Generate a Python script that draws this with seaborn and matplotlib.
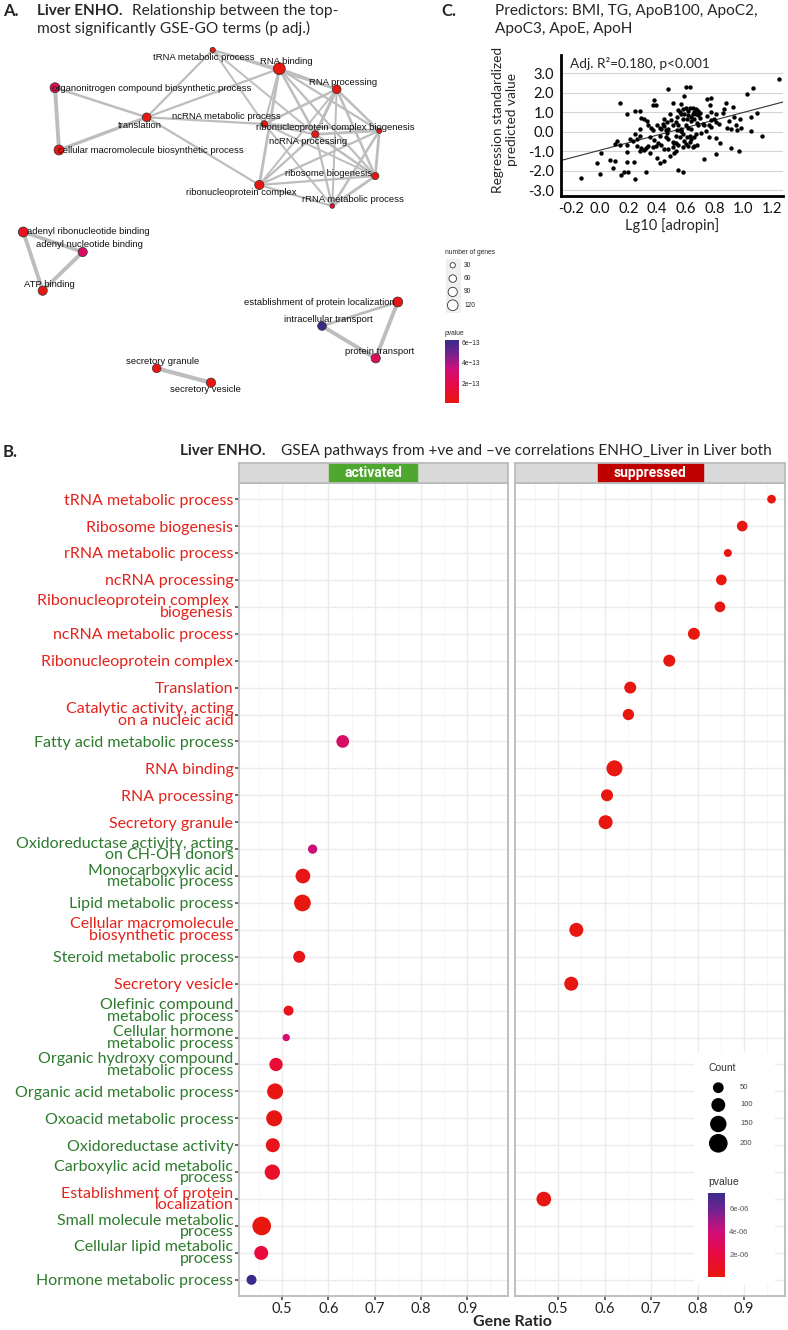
import numpy as np
import pandas as pd
import seaborn as sns
import matplotlib.pyplot as plt
from matplotlib.colors import LinearSegmentedColormap, Normalize
from matplotlib.collections import LineCollection
from matplotlib.cm import ScalarMappable
from matplotlib.patches import Rectangle

W, H = 788, 1330

# ---------------- A: GO term network ----------------
node_names = ["tRNA metabolic process", "RNA binding", "RNA processing",
              "organonitrogen compound biosynthetic process", "translation",
              "ncRNA metabolic process", "ribonucleoprotein complex biogenesis",
              "ncRNA processing", "cellular macromolecule biosynthetic process",
              "ribosome biogenesis", "ribonucleoprotein complex", "rRNA metabolic process",
              "adenyl ribonucleotide binding", "adenyl nucleotide binding", "ATP binding",
              "establishment of protein localization", "intracellular transport",
              "protein transport", "secretory granule", "secretory vesicle"]
# layout coordinates of the nodes
node_x = [212.7, 279.3, 336.7, 55.0, 146.7, 264.3, 379.3, 315.3, 59.0, 375.3,
          259.3, 332.3, 23.3, 82.7, 42.7, 397.7, 322.0, 375.7, 156.7, 211.0]
node_y = [50.0, 68.7, 89.3, 87.7, 117.3, 124.0, 130.7, 134.3, 150.0, 176.0,
          185.0, 206.0, 232.0, 252.0, 290.7, 302.0, 326.0, 358.3, 368.3, 382.7]
label_x = [204, 286.7, 342.7, 152, 140, 226.7, 335, 308.3, 150.5, 328.3,
           241.7, 352.7, 88.7, 89.3, 49.3, 319.3, 328.3, 379.3, 162.3, 205.3]
label_y = [57.7, 61.7, 82.7, 88.3, 125, 116.7, 127.7, 141.3, 150.7, 174,
           192.7, 200, 232, 244.7, 284.7, 302.7, 319.3, 351.7, 361.7, 390]
node_genes = [30, 150, 80, 105, 80, 47, 30, 55, 105, 55,
              90, 23, 105, 90, 90, 105, 80, 90, 80, 90]
node_p = [1e-15, 2e-15, 1e-15, 2.2e-13, 1e-15, 2e-15, 1e-15, 1e-15, 2e-14, 1e-15,
          1e-15, 1.5e-13, 0.6e-13, 2.7e-13, 1e-14, 0.3e-13, 6.23e-13, 2.4e-13, 1e-14, 1e-14]
edges = [(4, 0), (4, 1), (4, 5), (4, 10), (4, 3), (4, 8), (3, 8),
         (0, 1), (0, 5), (0, 7), (0, 2),
         (1, 2), (1, 10), (1, 6), (1, 7), (1, 9), (1, 5),
         (2, 5), (2, 7), (2, 6), (2, 9), (2, 11), (2, 10),
         (5, 7), (5, 6), (5, 9), (5, 11),
         (7, 6), (7, 9), (7, 11), (7, 10),
         (6, 9), (6, 11), (6, 10), (9, 11), (9, 10), (10, 11),
         (12, 13), (12, 14), (13, 14),
         (15, 16), (15, 17), (16, 17), (18, 19)]
edge_w = [1.6, 1.6, 1.6, 1.6, 1.8, 2.4, 2.8,
          1.4, 1.4, 1.4, 1.4,
          2.0, 2.0, 1.6, 1.8, 1.6, 1.4,
          1.8, 2.2, 1.8, 1.8, 1.4, 1.4,
          1.6, 1.6, 1.4, 1.4,
          2.0, 1.8, 1.6, 1.6,
          2.0, 1.8, 1.6, 2.0, 1.6, 1.6,
          2.6, 2.8, 2.8,
          2.0, 2.8, 2.8, 3.0]
gene_legend = [30, 60, 90, 120]

# ---------------- C: regression scatter ----------------
lg10_adropin = [1.25, 1.07, 1.03, 0.48, 0.60, 0.63, 0.59, 0.38, 0.14, 0.37, 0.39, 0.51, 0.57,
                0.75, 0.78, 0.77, 0.88, 0.93, 0.25, 0.28, 0.19, 0.49, 0.55, 0.58, 0.60, 0.63,
                0.65, 0.67, 0.69, 0.57, 0.59, 0.62, 0.65, 0.67, 0.69, 0.54, 0.58, 0.61, 0.64,
                0.66, 0.70, 0.78, 0.81, 0.75, 0.80, 0.78, 0.87, 0.94, 0.98, 1.10, 1.06, 0.29,
                0.31, 0.45, 0.47, 0.45, 0.48, 0.51, 0.34, 0.36, 0.37, 0.40, 0.42, 0.43, 0.46,
                0.53, 0.55, 0.57, 0.60, 0.62, 0.64, 0.54, 0.57, 0.72, 0.73, 0.76, 0.78, 0.69,
                0.81, 0.83, 0.89, 0.92, 0.95, 0.96, 1.06, 1.13, 0.28, 0.25, 0.28, 0.26, 0.35,
                0.38, 0.42, 0.46, 0.48, 0.51, 0.53, 0.56, 0.58, 0.61, 0.63, 0.64, 0.66, 0.67,
                0.76, 0.81, 0.84, 0.92, 0.97, 0.12, 0.11, 0.14, 0.19, 0.23, 0.26, 0.29, 0.32,
                0.34, 0.37, 0.39, 0.28, 0.31, 0.35, 0.41, 0.43, 0.45, 0.48, 0.51, 0.53, 0.55,
                0.58, 0.60, 0.62, 0.65, 0.66, 0.68, 0.53, 0.52, 0.01, 0.19, 0.40, 0.42, 0.45,
                0.49, 0.73, 0.81, -0.02, 0.07, 0.11, 0.19, 0.24, 0.09, 0.17, 0.15, 0.20, 0.32,
                0.00, -0.13, 0.25, 0.55, 0.58,
                0.62, 0.66, 0.70, 0.56, 0.64, 0.68, 0.44, 0.50, 0.71, 0.59, 0.47, 0.52, 0.74,
                0.86, 0.90, 0.33, 0.21, 0.99, 0.63, 0.57]
predicted_z = [2.74, 2.26, 1.95, 2.22, 2.29, 2.29, 1.83, 1.66, 1.48, 1.36, 1.36, 1.50, 1.45,
               1.71, 1.74, 1.40, 1.50, 1.28, 1.07, 1.07, 0.93, 0.93, 1.10, 1.19, 1.22, 1.22,
               1.22, 1.16, 1.07, 0.93, 0.93, 0.84, 0.93, 0.93, 0.84, 0.76, 0.67, 0.67, 0.76,
               0.67, 0.71, 1.02, 0.93, 0.81, 0.67, 0.62, 1.16, 0.76, 0.67, 0.98, 0.76, 0.72,
               0.64, 0.64, 0.50, 0.28, 0.16, 0.36, 0.33, 0.19, 0.07, 0.33, 0.19, 0.12, 0.07,
               0.50, 0.33, 0.16, 0.33, 0.21, 0.16, 0.07, 0.02, 0.41, 0.36, 0.33, 0.24, 0.33,
               0.53, 0.41, 0.21, 0.12, 0.36, 0.07, 0.02, -0.19, 0.16, -0.10, -0.19, -0.36, -0.28,
               -0.40, -0.19, -0.28, -0.36, -0.50, -0.19, -0.28, -0.10, -0.28, -0.19, -0.36, -0.28, -0.10,
               -0.28, -0.33, -0.57, -0.81, -1.00, -0.47, -0.62, -0.66, -0.66, -0.45, -0.71, -0.81, -0.81,
               -0.71, -0.79, -0.71, -0.98, -0.91, -1.09, -0.57, -0.67, -0.88, -0.88, -0.79, -0.59, -0.67,
               -0.79, -0.62, -0.71, -0.79, -0.71, -0.66, -1.00, -1.09, -1.09, -1.05, -1.36, -1.60, -1.48,
               -1.26, -1.40, -1.14, -1.60, -1.45, -1.52, -1.57, -1.55, -1.88, -2.05, -2.21, -2.05, -2.05,
               -2.19, -2.36, -2.45, -1.95, -2.09,
               1.05, 1.02, 0.95, 1.02, 0.55, 0.45, 0.40, 0.60, -0.05, -0.45, -0.05, -0.60, 0.05,
               0.95, 0.55, 0.55, -0.35, 0.20, -0.50, 0.05]
fit_intercept, fit_slope = -0.95, 1.94
x_ticks_c = [-0.2, 0.0, 0.2, 0.4, 0.6, 0.8, 1.0, 1.2]
y_ticks_c = [-3.0, -2.0, -1.0, 0.0, 1.0, 2.0, 3.0]

# ---------------- B: GSEA dot plot ----------------
terms = ["tRNA metabolic process", "Ribosome biogenesis", "rRNA metabolic process",
         "ncRNA processing", "Ribonucleoprotein complex \nbiogenesis", "ncRNA metabolic process",
         "Ribonucleoprotein complex", "Translation", "Catalytic activity, acting\non a nucleic acid",
         "Fatty acid metabolic process", "RNA binding", "RNA processing", "Secretory granule",
         "Oxidoreductase activity, acting\non CH-OH donors", "Monocarboxylic acid\nmetabolic process",
         "Lipid metabolic process", "Cellular macromolecule\nbiosynthetic process",
         "Steroid metabolic process", "Secretory vesicle", "Olefinic compound\nmetabolic process",
         "Cellular hormone\nmetabolic process", "Organic hydroxy compound\nmetabolic process",
         "Organic acid metabolic process", "Oxoacid metabolic process", "Oxidoreductase activity",
         "Carboxylic acid metabolic\nprocess", "Establishment of protein\nlocalization",
         "Small molecule metabolic\nprocess", "Cellular lipid metabolic\nprocess",
         "Hormone metabolic process"]
direction = (["suppressed"] * 9 + ["activated"] + ["suppressed"] * 3 + ["activated"] * 3
             + ["suppressed"] + ["activated"] + ["suppressed"] + ["activated"] * 7
             + ["suppressed"] + ["activated"] * 3)
gene_ratio = [0.959, 0.896, 0.865, 0.851, 0.848, 0.792, 0.739, 0.655, 0.651, 0.631,
              0.621, 0.605, 0.602, 0.566, 0.545, 0.544, 0.539, 0.537, 0.528, 0.514,
              0.509, 0.487, 0.485, 0.483, 0.480, 0.479, 0.469, 0.456, 0.455, 0.434]
count = [24, 49, 16, 49, 49, 68, 68, 68, 58, 80, 141, 68, 102, 31, 115, 156, 102, 68, 102, 40,
         10, 90, 141, 141, 102, 127, 115, 202, 102, 40]
pvalue = [2e-8, 5e-8, 1e-7, 8e-8, 1e-7, 5e-8, 8e-8, 3e-8, 1e-7, 3.3e-6,
          1e-9, 5e-8, 1e-7, 4.1e-6, 3.7e-7, 1e-8, 2e-7, 4e-7, 1e-7, 5e-7,
          3.7e-6, 1.6e-6, 2e-7, 2e-7, 5e-7, 1.1e-6, 1e-7, 1e-9, 1.85e-6, 7.4e-6]
count_legend = [50, 100, 150, 200]

RED, GREEN = "#E3231B", "#2E7A2E"
pv_cmap = LinearSegmentedColormap.from_list(
    "pv", [(0, "#E8170F"), (0.27, "#E80A40"), (0.54, "#CF0E7A"), (0.8, "#6E2490"), (1, "#3B2A8A")])

sns.set_theme(style="white")
plt.rcParams['font.family'] = ['Lato', 'DejaVu Sans']

fig = plt.figure(figsize=(W / 100, H / 100), dpi=100)


def px_axes(l, t, r, b):
    return fig.add_axes([l / W, 1 - b / H, (r - l) / W, (b - t) / H])


def px_text(x, y, s, **kw):
    kw.setdefault('va', 'center')
    return fig.text(x / W, 1 - y / H, s, **kw)


# ---- titles ----
px_text(3, 11, "A.", fontsize=12, weight='bold')
px_text(37, 11, "Liver ENHO.", fontsize=11, weight='bold')
px_text(132, 11, "Relationship between the top-", fontsize=11.2)
px_text(37, 28.5, "most significantly GSE-GO terms (p adj.)", fontsize=11.2)
px_text(441, 11, "C.", fontsize=12, weight='bold')
px_text(495, 11, "Predictors: BMI, TG, ApoB100, ApoC2,", fontsize=11.1)
px_text(495, 28.5, "ApoC3, ApoE, ApoH", fontsize=11.1)
px_text(3, 452, "B.", fontsize=12, weight='bold')
px_text(180, 451, "Liver ENHO.", fontsize=11, weight='bold')
px_text(281, 451, "GSEA pathways from +ve and \u2013ve correlations ENHO_Liver in Liver both",
        fontsize=11.1)

# ---- A network ----
ax_a = px_axes(0, 40, 430, 410)
ax_a.set_xlim(0, 430)
ax_a.set_ylim(410, 40)
ax_a.axis('off')
segs = [[(node_x[i], node_y[i]), (node_x[j], node_y[j])] for i, j in edges]
ax_a.add_collection(LineCollection(segs, colors="#BDBDBD", linewidths=edge_w, zorder=1))
net = pd.DataFrame({"x": node_x, "y": node_y, "genes": node_genes, "p": node_p})
norm_a = Normalize(min(node_p), max(node_p))
sns.scatterplot(data=net, x="x", y="y", hue="p", size="genes", palette=pv_cmap,
                hue_norm=norm_a, sizes=(0, 0.49 * 150), size_norm=(0, 150),
                edgecolor="#333333", linewidth=0.5, legend=False, ax=ax_a, zorder=2)
ax_a.set_xlabel("")
ax_a.set_ylabel("")
for name, lx, ly in zip(node_names, label_x, label_y):
    ax_a.text(lx, ly, name, fontsize=6.8, family="Liberation Sans", ha="center",
              va="center", zorder=4, color="#111111")

# size legend
px_text(445, 252.7, "number of genes", fontsize=4.8, family="Liberation Sans")
ax_gl = px_axes(445.7, 259, 461, 312.7)
ax_gl.set_facecolor("#EFEFEF")
ax_gl.set_xlim(0, 1)
ax_gl.set_ylim(3.56, -0.47)
ax_gl.set_xticks([])
ax_gl.set_yticks([])
for sp in ax_gl.spines.values():
    sp.set_visible(False)
ax_gl.scatter([0.46] * len(gene_legend), range(len(gene_legend)),
              s=[0.49 * g for g in gene_legend], facecolor="white", edgecolor="#333333", lw=0.6)
for i, g in enumerate(gene_legend):
    ax_gl.text(1.2, i, str(g), fontsize=4.8, family="Liberation Sans", va="center",
               transform=ax_gl.transData, clip_on=False)

px_text(445, 333, "pvalue", fontsize=4.8, family="Liberation Sans")
cax_a = px_axes(445.3, 340, 458.7, 403.3)
cb_a = fig.colorbar(ScalarMappable(norm=norm_a, cmap=pv_cmap), cax=cax_a)
cb_a.set_ticks([2e-13, 4e-13, 6e-13])
cb_a.set_ticklabels(["2e\u221213", "4e\u221213", "6e\u221213"])
cb_a.outline.set_visible(False)
cax_a.tick_params(length=2, width=0.5, color="white", direction="in", labelsize=4.8, pad=2)
for t in cax_a.get_yticklabels():
    t.set_family("Liberation Sans")

# ---- C scatter ----
ax_c = px_axes(561, 55, 783, 196)
sns.scatterplot(x=lg10_adropin, y=predicted_z, color="black", s=10, linewidth=0, ax=ax_c, zorder=3)
ax_c.axline((0, fit_intercept), slope=fit_slope, color="#333333", lw=0.8, zorder=2)
ax_c.set_xlim(-0.27, 1.28)
ax_c.set_ylim(-3.3, 3.95)
ax_c.set_xticks(x_ticks_c)
ax_c.set_xticklabels([f"{v:.1f}" for v in x_ticks_c])
ax_c.set_yticks(y_ticks_c)
ax_c.set_yticklabels([f"{v:.1f}" for v in y_ticks_c])
ax_c.tick_params(length=0, labelsize=10.5, pad=5, labelcolor="#111111")
ax_c.tick_params(axis="x", pad=4)
ax_c.grid(axis="y", color="#D4D4D4", lw=0.8)
for side in ["top", "right"]:
    ax_c.spines[side].set_visible(False)
for side in ["left", "bottom"]:
    ax_c.spines[side].set_color("black")
    ax_c.spines[side].set_linewidth(2)
ax_c.text(0.04, 0.94, "Adj. R\u00b2=0.180, p<0.001", transform=ax_c.transAxes,
          fontsize=9.8, va="center")
px_text(505, 120, "Regression standardized\npredicted value", fontsize=9.8,
        rotation=90, ha="center", multialignment="center", linespacing=1.15)
px_text(672, 226, "Lg10 [adropin]", fontsize=10.5, ha="center")

# ---- B dot plot ----
df = pd.DataFrame({"term": terms, "row": range(len(terms)), "direction": direction,
                   "GeneRatio": gene_ratio, "Count": count, "pvalue": pvalue})
norm_b = Normalize(min(pvalue), max(pvalue))
size_range = (20, 180)
size_norm = (0, 200)


def count_to_s(c):
    return size_range[0] + (size_range[1] - size_range[0]) * (c - size_norm[0]) / (size_norm[1] - size_norm[0])


ax_l = px_axes(239, 483, 508, 1296)
ax_r = px_axes(515, 483, 785, 1296)
for ax, d in [(ax_l, "activated"), (ax_r, "suppressed")]:
    sub = df[df["direction"] == d]
    ax.set_xticks([0.5, 0.6, 0.7, 0.8, 0.9])
    ax.set_xticks([0.45, 0.55, 0.65, 0.75, 0.85, 0.95], minor=True)
    ax.set_yticks(df["row"])
    ax.grid(which="major", color="#EBEBEB", lw=1.0, zorder=0)
    ax.grid(which="minor", axis="x", color="#F4F4F4", lw=0.6, zorder=0)
    sns.scatterplot(data=sub, x="GeneRatio", y="row", hue="pvalue", size="Count",
                    palette=pv_cmap, hue_norm=norm_b, sizes=size_range,
                    size_norm=size_norm, linewidth=0, legend=False, ax=ax, zorder=3)
    ax.set_xlim(0.407, 0.988)
    ax.set_ylim(29.6, -0.6)
    ax.set_xlabel("")
    ax.set_ylabel("")
    ax.set_xticklabels(["0.5", "0.6", "0.7", "0.8", "0.9"])
    ax.tick_params(axis="x", which="major", length=3, color="#555555", labelsize=10.5,
                   labelcolor="#222222", pad=1.5, bottom=True)
    ax.tick_params(axis="x", which="minor", length=0)
    for sp in ax.spines.values():
        sp.set_color("#BBBBBB")
        sp.set_linewidth(1.3)

ax_l.set_yticklabels(df["term"], fontsize=11.5, linespacing=0.8)
ax_l.tick_params(axis="y", length=3, color="#555555", pad=1, left=True)
for lbl, d in zip(ax_l.get_yticklabels(), direction):
    lbl.set_color(GREEN if d == "activated" else RED)
ax_r.tick_params(axis="y", length=0, labelleft=False)

# strips
for (l, r), lab, col, (b0, b1) in [((239, 508), "activated", "#4EA72E", (0.335, 0.662)),
                                   ((515, 785), "suppressed", "#C00000", (0.306, 0.695))]:
    st = px_axes(l, 463, r, 483)
    st.set_facecolor("#D9D9D9")
    st.set_xticks([])
    st.set_yticks([])
    for sp in st.spines.values():
        sp.set_color("#BBBBBB")
        sp.set_linewidth(1.3)
    st.add_patch(Rectangle((b0, 0), b1 - b0, 1, transform=st.transAxes, color=col))
    st.text((b0 + b1) / 2, 0.5, lab, transform=st.transAxes, ha="center", va="center",
            color="white", weight="bold", fontsize=10, family="Roboto")

px_text(512, 1322, "Gene Ratio", fontsize=11.5, weight="bold", ha="center")

# legends for B
lg = px_axes(694, 1053, 775, 1285)
lg.set_xlim(694, 775)
lg.set_ylim(1285, 1053)
lg.axis("off")
lg.add_patch(Rectangle((694, 1053), 81, 232, color="white", zorder=0))
lg.text(708, 1068, "Count", fontsize=7.5, family="Liberation Sans", va="center", color="#333333")
key_y = [1087.7, 1105, 1124, 1143.3]
lg.scatter([718.3] * len(count_legend), key_y, s=[count_to_s(c) for c in count_legend],
           color="black", lw=0, zorder=2)
for c, yk in zip(count_legend, key_y):
    lg.text(740, yk, str(c), fontsize=5.5, family="Liberation Sans", va="center", color="#444444")
lg.text(708, 1182.3, "pvalue", fontsize=7.5, family="Liberation Sans", va="center", color="#333333")

cax_b = px_axes(708.3, 1192.7, 725, 1277)
cb_b = fig.colorbar(ScalarMappable(norm=norm_b, cmap=pv_cmap), cax=cax_b)
cb_b.set_ticks([2e-6, 4e-6, 6e-6])
cb_b.set_ticklabels(["2e-06", "4e-06", "6e-06"])
cb_b.outline.set_visible(False)
cax_b.tick_params(length=3, width=0.5, color="white", direction="in", labelsize=5.5,
                  labelcolor="#555555", pad=3)
for t in cax_b.get_yticklabels():
    t.set_family("Liberation Sans")

fig.savefig("out.png", dpi=100)
